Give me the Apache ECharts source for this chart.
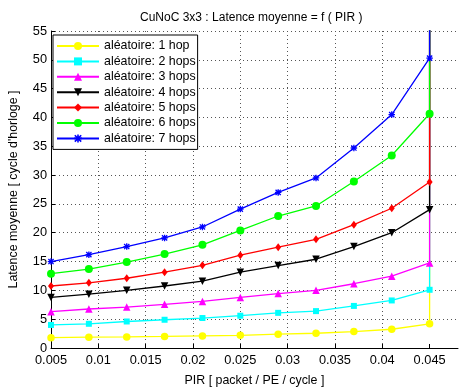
<!DOCTYPE html>
<html>
<head>
<meta charset="utf-8">
<script src="https://cdn.jsdelivr.net/npm/echarts@6/dist/echarts.min.js"></script>
<style>
  html, body { margin: 0; padding: 0; background: #fff; }
  #chart { width: 469px; height: 392px; }
</style>
</head>
<body>
<div id="chart"></div>
<script>
// Injection rate (packets / PE / cycle)
const pir = [0.005, 0.009, 0.013, 0.017, 0.021, 0.025, 0.029, 0.033, 0.037, 0.041, 0.045];

// Mean latency (clock cycles), one array per hop distance
const hop1 = [1.8, 1.88, 1.93, 2.0, 2.1, 2.2, 2.4, 2.56, 2.85, 3.25, 4.2];
const hop2 = [4.0, 4.2, 4.6, 4.9, 5.2, 5.6, 6.1, 6.4, 7.3, 8.25, 10.1];
const hop3 = [6.3, 6.77, 7.1, 7.57, 8.08, 8.77, 9.45, 10.0, 11.15, 12.47, 14.75];
const hop4 = [8.77, 9.34, 10.0, 10.76, 11.6, 13.15, 14.3, 15.4, 17.6, 20.0, 24.0];
const hop5 = [10.76, 11.3, 12.1, 13.15, 14.35, 16.1, 17.5, 18.85, 21.4, 24.25, 28.8];
const hop6 = [12.9, 13.7, 14.9, 16.3, 17.9, 20.4, 22.9, 24.65, 28.9, 33.4, 40.65];
const hop7 = [15.0, 16.2, 17.6, 19.1, 21.0, 24.1, 27.0, 29.5, 34.7, 40.5, 50.3];

// Beyond the last rate the network saturates: latency diverges
const saturatedPir = 0.045;
const saturatedLatency = 1000;

const seriesNames = [
  'aléatoire: 1 hop', 'aléatoire: 2 hops', 'aléatoire: 3 hops', 'aléatoire: 4 hops',
  'aléatoire: 5 hops', 'aléatoire: 6 hops', 'aléatoire: 7 hops'
];
const xTicks = [0.005, 0.01, 0.015, 0.02, 0.025, 0.03, 0.035, 0.04, 0.045];

const asterisk = 'path://M4 0H6V10H4Z M0 4H10V6H0Z M0.3 1.7L1.7 0.3L9.7 8.3L8.3 9.7Z M8.3 0.3L9.7 1.7L1.7 9.7L0.3 8.3Z';

const styles = [
  { color: '#ffff00', symbol: 'circle', size: 7.5, rotate: 0 },
  { color: '#00ffff', symbol: 'rect', size: 6, rotate: 0 },
  { color: '#ff00ff', symbol: 'triangle', size: 7.5, rotate: 0 },
  { color: '#000000', symbol: 'triangle', size: 7.5, rotate: 180 },
  { color: '#ff0000', symbol: 'diamond', size: [6, 8], rotate: 0 },
  { color: '#00ff00', symbol: 'circle', size: 8, rotate: 0 },
  { color: '#0000ff', symbol: asterisk, size: 6.5, rotate: 0 }
];
const values = [hop1, hop2, hop3, hop4, hop5, hop6, hop7];

const series = values.map((vals, i) => {
  const data = pir.map((x, j) => [x, vals[j]]);
  data.push({ value: [saturatedPir, saturatedLatency], symbol: 'none' });
  return {
    name: seriesNames[i],
    type: 'line',
    data: data,
    symbol: styles[i].symbol,
    symbolSize: styles[i].size,
    symbolRotate: styles[i].rotate,
    showAllSymbol: true,
    clip: true,
    lineStyle: { color: styles[i].color, width: 1.3 },
    itemStyle: { color: styles[i].color },
    emphasis: { disabled: true },
    animation: false,
    z: 2 + i
  };
});

const fontFamily = '"Liberation Sans", Arial, Helvetica, sans-serif';

const chart = echarts.init(document.getElementById('chart'), null, { renderer: 'canvas' });
chart.setOption({
  backgroundColor: '#fff',
  animation: false,
  textStyle: { fontFamily: fontFamily, color: '#000' },
  title: {
    text: 'CuNoC 3x3 : Latence moyenne = f ( PIR )',
    left: 135,
    top: 7,
    textStyle: { fontSize: 12, fontWeight: 'normal', color: '#000', fontFamily: fontFamily }
  },
  grid: { left: 47, right: 11, top: 31, bottom: 39, containLabel: false },
  legend: {
    orient: 'vertical',
    left: 53,
    top: 35,
    padding: [4, 2, 4, 3],
    itemGap: 1.4,
    itemWidth: 42,
    itemHeight: 10,
    backgroundColor: '#fff',
    borderColor: '#000',
    borderWidth: 1,
    selectedMode: false,
    textStyle: { fontSize: 12.4, color: '#000', lineHeight: 14, fontFamily: fontFamily, padding: [0, 0, 0, 0] },
    z: 20
  },
  xAxis: {
    type: 'value',
    min: 0.005,
    max: 0.048,
    interval: 0.005,
    name: 'PIR [ packet / PE / cycle ]',
    nameLocation: 'middle',
    nameGap: 27,
    nameTextStyle: { fontSize: 12.4, color: '#000' },
    axisLine: { show: true, onZero: false, lineStyle: { color: '#000', width: 1 } },
    axisTick: { show: true, inside: true, length: 4, lineStyle: { color: '#000' }, customValues: xTicks },
    axisLabel: {
      color: '#000', fontSize: 12.8, margin: 6,
      customValues: xTicks,
      formatter: v => String(+v.toFixed(3))
    },
    splitLine: { show: true, showMinLine: false, showMaxLine: false, lineStyle: { color: '#555', width: 1, type: [1, 3] } }
  },
  yAxis: {
    type: 'value',
    min: 0,
    max: 55,
    interval: 5,
    name: "Latence moyenne [ cycle d'horloge ]",
    nameLocation: 'middle',
    nameGap: 31,
    nameRotate: 90,
    nameTextStyle: { fontSize: 12.4, color: '#000' },
    axisLine: { show: true, lineStyle: { color: '#000', width: 1 } },
    axisTick: { show: true, inside: true, length: 4, lineStyle: { color: '#000' } },
    axisLabel: { color: '#000', fontSize: 12.8, margin: 4 },
    splitLine: { show: true, showMinLine: false, lineStyle: { color: '#555', width: 1, type: [1, 3] } }
  },
  series: series
});
</script>
</body>
</html>
